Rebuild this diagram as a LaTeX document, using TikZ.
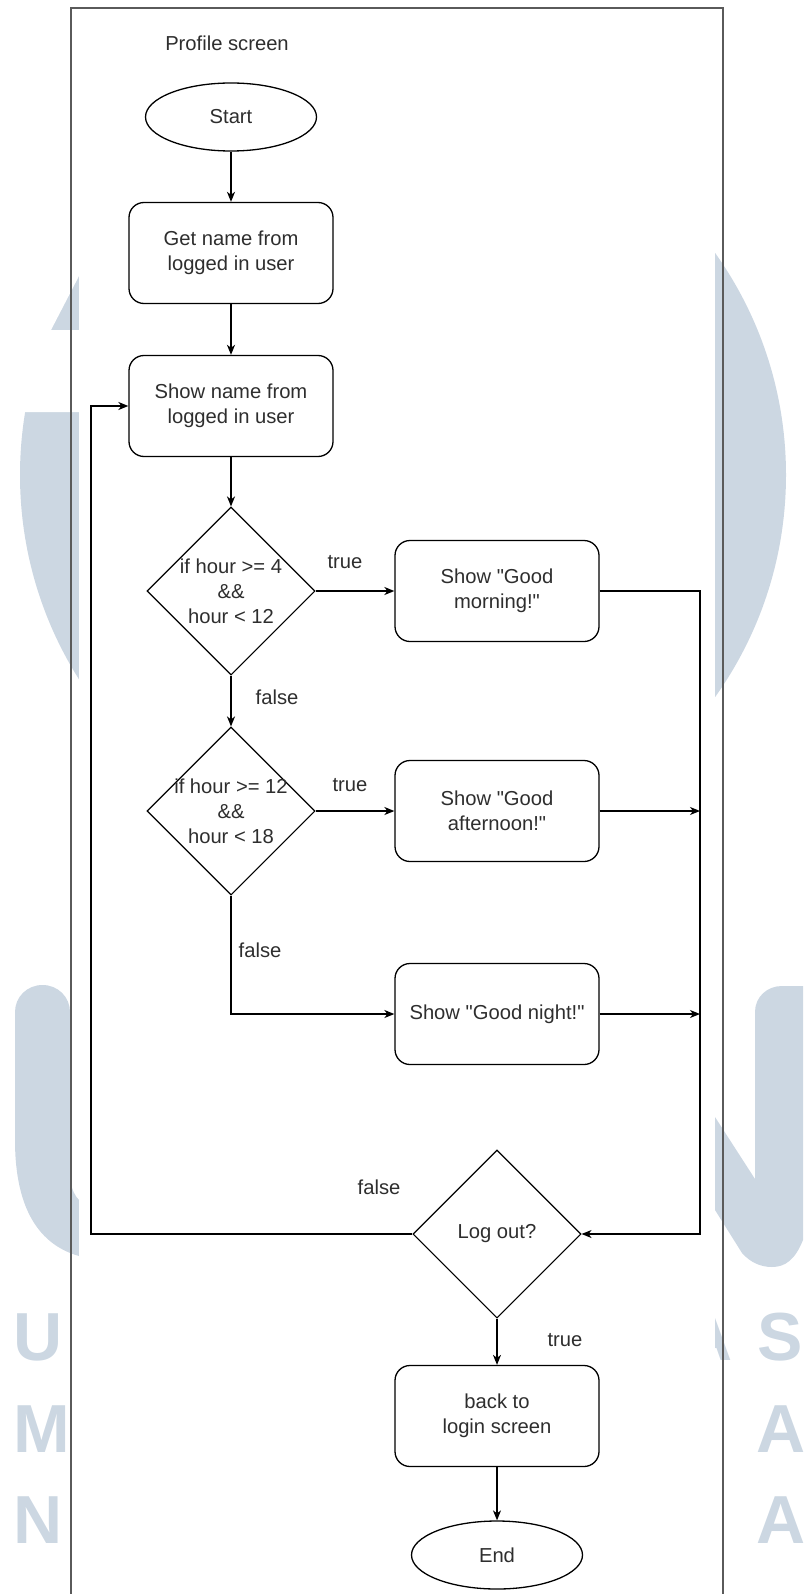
\documentclass[tikz,border=0pt]{standalone}
\usepackage{fontspec}
\setmainfont{Liberation Sans}[Ligatures=TeXOff]
\usetikzlibrary{shapes.geometric,arrows.meta}
\definecolor{wmblue}{RGB}{204,215,226}
\definecolor{framegray}{RGB}{90,90,90}

\begin{document}
\begin{tikzpicture}[x=1pt,y=-1pt,
    txt/.style={font=\fontsize{20.2}{25}\selectfont,align=center,text=black!82},
    terminal/.style={ellipse,draw,line width=1.3pt,minimum width=171pt,minimum height=68pt,txt},
    process/.style={rectangle,rounded corners=15pt,draw,line width=1.3pt,minimum width=204pt,minimum height=101pt,txt},
    decision/.style={diamond,draw,line width=1.1pt,minimum width=168pt,minimum height=168pt,inner sep=0pt},
    lbl/.style={txt},
    flow/.style={-{Stealth[length=10pt,width=8pt,inset=3pt]},line width=1.3pt},
    bold/.style={flow,line width=2pt},
    wm/.style={font=\fontsize{68}{68}\selectfont\bfseries,text=wmblue,inner sep=0pt}]
  \useasboundingbox (0,0) rectangle (803,1594);

  % watermark behind the sheet
  \fill[wmblue] (403,475) circle[radius=383];
  \fill[white] (0,0) -- (79,0) -- (79,276) -- (51,330) -- (79,330) -- (79,412) -- (0,412) -- cycle;
  \fill[wmblue] (79,1256) .. controls (40,1245) and (15,1210) .. (15,1140) -- (15,1012)
    .. controls (15,997) and (27,985) .. (42.5,985) .. controls (58,985) and (70,997) .. (70,1012)
    -- (70,1180) .. controls (72,1190) and (75,1196) .. (79,1200) -- cycle;
  \fill[wmblue] (715,1117) -- (755,1179) -- (755,1012) .. controls (755,997) and (767,986) .. (782,986)
    -- (803,986) -- (803,1240) .. controls (795,1260) and (785,1267) .. (772,1267)
    .. controls (760,1267) and (750,1262) .. (742,1253) -- (715,1210) -- cycle;
  \node[wm,anchor=base west] (wmU) at (13,1360) {U};
  \node[wm,anchor=base west] (wmM) at (13,1452) {M};
  \node[wm,anchor=base west] (wmN) at (13,1543) {N};
  \node[wm,anchor=base east] (wmA) at (733,1360) {A};
  \node[wm,anchor=base west] (wmS) at (757,1360) {S};
  \node[wm,anchor=base west] (wmAa) at (756,1452) {A};
  \node[wm,anchor=base west] (wmAb) at (756,1543) {A};

  % sheet
  \fill[white] (79,0) rectangle (715,1594);
  \draw[framegray,line width=1.2pt] (71,1594) -- (71,8) -- (723,8) -- (723,1594);

  \node[lbl] (title) at (227,43) {Profile screen};
  \node[terminal] (start) at (231,117) {Start};
  \node[process] (getname) at (231,253) {Get name from\\logged in user};
  \node[process] (showname) at (231,406) {Show name from\\logged in user};
  \node[decision,label={[txt]center:{if hour >= 4\\\&\&\\hour < 12}}] (hour1) at (231,591) {};
  \node[process] (morning) at (497,591) {Show "Good\\morning!"};
  \node[decision,label={[txt]center:{if hour >= 12\\\&\&\\hour < 18}}] (hour2) at (231,811) {};
  \node[process] (afternoon) at (497,811) {Show "Good\\afternoon!"};
  \node[process] (night) at (497,1014) {Show "Good night!"};
  \node[decision,label={[txt]center:{Log out?}}] (logout) at (497,1234) {};
  \node[process] (backlogin) at (497,1416) {back to\\login screen};
  \node[terminal] (stop) at (497,1555) {End};
  \coordinate (rail) at (700,591);
  \coordinate (loop) at (91,406);

  \node[lbl] (t1) at (345,562) {true};
  \node[lbl] (f1) at (277,697) {false};
  \node[lbl] (t2) at (350,785) {true};
  \node[lbl] (f2) at (260,950) {false};
  \node[lbl] (f3) at (379,1187) {false};
  \node[lbl] (t3) at (565,1340) {true};

  \begin{scope}[bold]
    \draw (start) -- (getname);
    \draw (getname) -- (showname);
    \draw (showname) -- (hour1);
    \draw (hour1) -- (hour2);
  \end{scope}
  \begin{scope}[flow]
    \draw (hour1) -- (morning);
    \draw (hour2) -- (afternoon);
    \draw (hour2) |- (night);
    \draw (morning) -- (rail) |- (logout);
    \draw (afternoon) -- (afternoon -| rail);
    \draw (night) -- (night -| rail);
    \draw (logout) -| (loop) -- (showname);
    \draw (logout) -- (backlogin);
    \draw (backlogin) -- (stop);
  \end{scope}
\end{tikzpicture}
\end{document}
